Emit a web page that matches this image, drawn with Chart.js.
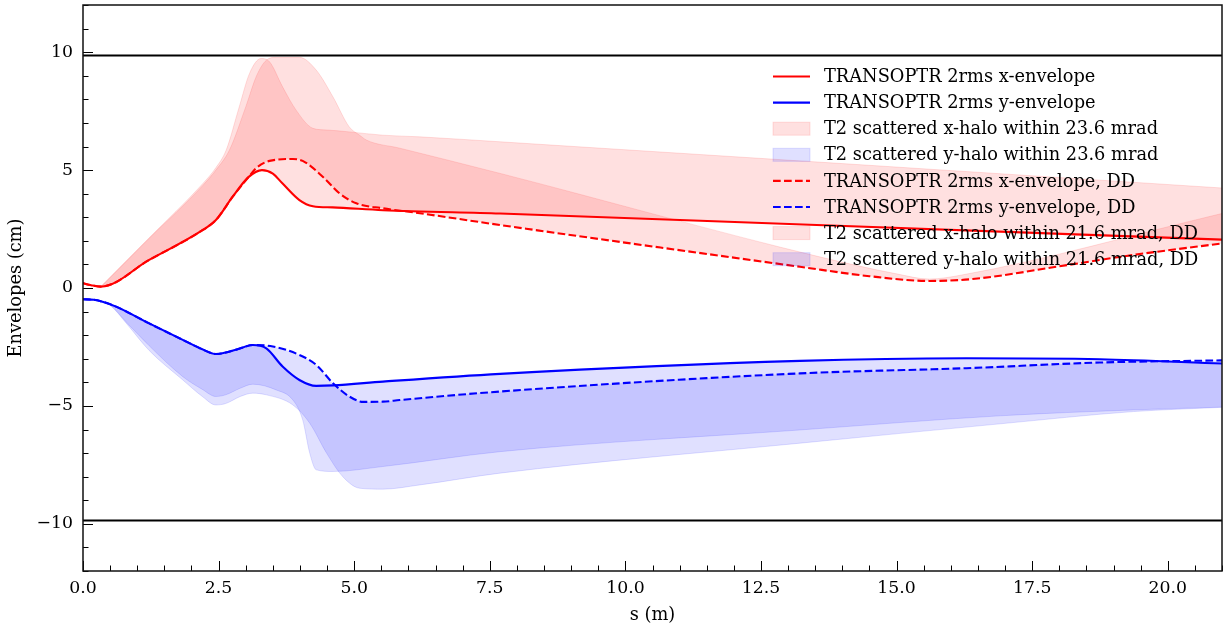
<!DOCTYPE html>
<html lang="en">
<head>
  <meta charset="UTF-8">
  <title>Beam envelopes along s</title>
  <script src="https://cdn.jsdelivr.net/npm/chart.js"></script>
  <style>
    html, body { margin: 0; padding: 0; background: #fff; }
    #wrap { width: 1228px; height: 627px; }
  </style>
</head>
<body>
<div id="wrap"><canvas id="envChart"></canvas></div>
<script>
  // TRANSOPTR 2rms envelopes (s in m, value in cm)
  const xEnvS = [0, 0.15, 0.33, 1.22, 2.21, 2.45, 2.76, 3.05, 3.3, 3.5, 3.68, 3.99, 4.24, 4.6, 5.53, 7.69, 13.4, 21];
  const xEnvV = [0.2, 0.12, 0.06, 1.19, 2.46, 2.88, 3.87, 4.7, 5.0, 4.85, 4.43, 3.73, 3.47, 3.42, 3.3, 3.16, 2.68, 2.05];

  const yEnvS = [0, 0.2, 0.36, 0.61, 1.22, 1.84, 2.2, 2.45, 2.57, 2.85, 3.13, 3.38, 3.68, 3.99, 4.3, 4.61, 5.53, 7.69, 13.22, 16.29, 18.75, 21];
  const yEnvV = [-0.48, -0.5, -0.58, -0.79, -1.5, -2.2, -2.6, -2.8, -2.77, -2.6, -2.42, -2.56, -3.33, -3.9, -4.15, -4.13, -3.97, -3.64, -3.09, -2.98, -3.02, -3.2];

  // DD envelopes
  const xEnvDDS = [0, 0.15, 0.33, 1.22, 2.21, 2.45, 2.76, 3.05, 3.2, 3.44, 3.87, 4.05, 4.42, 4.73, 5.04, 5.53, 6.21, 7.69, 13.22, 14.5, 15.6, 16.4, 18.14, 19.36, 21];
  const xEnvDDV = [0.2, 0.12, 0.06, 1.19, 2.46, 2.88, 3.87, 4.7, 5.1, 5.39, 5.47, 5.39, 4.72, 4.01, 3.59, 3.38, 3.17, 2.67, 0.9, 0.5, 0.3, 0.38, 0.97, 1.4, 1.89];

  const yEnvDDS = [0, 0.2, 0.36, 0.61, 1.22, 1.84, 2.2, 2.45, 2.57, 2.85, 3.13, 3.5, 3.99, 4.3, 4.61, 4.91, 5.17, 5.53, 5.84, 7.69, 13.22, 16.29, 18.75, 21];
  const yEnvDDV = [-0.48, -0.5, -0.58, -0.79, -1.5, -2.2, -2.6, -2.8, -2.77, -2.6, -2.42, -2.48, -2.84, -3.26, -4.04, -4.6, -4.83, -4.82, -4.75, -4.39, -3.62, -3.4, -3.16, -3.07];

  // T2 scattered halo edges, 23.6 mrad
  const xHaloS = [0.33, 1.22, 2.21, 2.45, 2.64, 2.88, 3.07, 3.28, 3.44, 3.68, 3.93, 4.24, 4.5, 4.91, 5.53, 6.21, 7.69, 21];
  const xHaloV = [0.06, 2.13, 4.43, 5.1, 5.85, 7.68, 9.1, 9.73, 9.59, 8.53, 7.54, 6.77, 6.7, 6.62, 6.48, 6.41, 6.2, 4.24];

  const yHaloS = [0.36, 0.5, 0.8, 1.22, 1.84, 2.2, 2.45, 2.63, 2.9, 3.13, 3.56, 3.87, 4.05, 4.18, 4.3, 4.61, 5.53, 7.69, 13.22, 16.91, 19.37, 21];
  const yHaloV = [-0.58, -0.72, -1.45, -2.45, -3.76, -4.3, -4.6, -4.53, -4.25, -4.08, -4.32, -4.75, -5.59, -7.0, -7.71, -7.78, -7.57, -6.94, -6.02, -5.42, -5.17, -5.05];

  // T2 scattered halo edges, 21.6 mrad, DD
  const xHaloDDS = [0.33, 1.22, 2.21, 2.45, 2.7, 3.0, 3.2, 3.38, 3.56, 3.99, 4.3, 4.61, 4.91, 5.1, 5.23, 5.84, 7.69, 13.6, 15.0, 15.6, 16.2, 21];
  const xHaloDDV = [0.06, 2.1, 4.35, 5.0, 5.85, 7.68, 9.0, 9.66, 9.78, 9.78, 9.24, 8.1, 6.83, 6.48, 6.27, 5.93, 4.86, 1.31, 0.6, 0.38, 0.55, 3.16];

  const yHaloDDS = [0.36, 0.5, 0.8, 1.22, 1.84, 2.2, 2.45, 2.63, 2.9, 3.13, 3.38, 3.87, 4.18, 4.49, 4.79, 5.1, 5.53, 6.21, 7.69, 13.22, 16.91, 19.37, 21];
  const yHaloDDV = [-0.58, -0.73, -1.5, -2.65, -3.9, -4.6, -4.96, -4.9, -4.6, -4.46, -4.53, -4.96, -5.73, -7.0, -8.0, -8.49, -8.53, -8.35, -7.85, -6.58, -5.76, -5.24, -5.06];

  // aperture limits
  const apertureS = [0, 21];
  const apertureV = 9.86;

  const labels = [
    'TRANSOPTR 2rms x-envelope',
    'TRANSOPTR 2rms y-envelope',
    'T2 scattered x-halo within 23.6 mrad',
    'T2 scattered y-halo within 23.6 mrad',
    'TRANSOPTR 2rms x-envelope, DD',
    'TRANSOPTR 2rms y-envelope, DD',
    'T2 scattered x-halo within 21.6 mrad, DD',
    'T2 scattered y-halo within 21.6 mrad, DD'
  ];

  const pts = (s, v) => s.map((x, i) => ({ x: x, y: v[i] }));

  const RED = '#ff0000', BLUE = '#0000ff';
  const RED_FILL = 'rgba(255,0,0,0.12)', BLUE_FILL = 'rgba(0,0,255,0.12)';
  const DASH = [7.7, 3.3];
  const FONT = "'DejaVu Serif', 'Liberation Serif', serif";
  const TICK_SIZE = 17.3, TEXT_SIZE = 17.8;

  function envLine(label, data, color, dash) {
    return {
      label, data, borderColor: color, borderWidth: 2.1, borderDash: dash || [],
      pointRadius: 0, fill: false, cubicInterpolationMode: 'monotone', order: 1
    };
  }
  function halo(label, data, color, fillColor, target) {
    return {
      label, data, borderColor: fillColor, backgroundColor: fillColor, borderWidth: 1,
      pointRadius: 0, fill: target, cubicInterpolationMode: 'monotone', order: 2
    };
  }
  function aperture(v) {
    return {
      label: '', data: pts(apertureS, [v, v]), borderColor: '#000', borderWidth: 2,
      pointRadius: 0, fill: false, order: 0
    };
  }

  const datasets = [
    envLine(labels[0], pts(xEnvS, xEnvV), RED),
    envLine(labels[1], pts(yEnvS, yEnvV), BLUE),
    halo(labels[2], pts(xHaloS, xHaloV), RED, RED_FILL, 0),
    halo(labels[3], pts(yHaloS, yHaloV), BLUE, BLUE_FILL, 1),
    envLine(labels[4], pts(xEnvDDS, xEnvDDV), RED, DASH),
    envLine(labels[5], pts(yEnvDDS, yEnvDDV), BLUE, DASH),
    halo(labels[6], pts(xHaloDDS, xHaloDDV), RED, RED_FILL, 4),
    halo(labels[7], pts(yHaloDDS, yHaloDDV), BLUE, BLUE_FILL, 5),
    aperture(apertureV),
    aperture(-apertureV)
  ];

  // inward ticks, full frame, legend inside the axes
  const decor = {
    id: 'decor',
    afterDraw(chart) {
      const { ctx, chartArea: a, scales: { x, y } } = chart;
      ctx.save();
      ctx.strokeStyle = '#000';
      ctx.lineWidth = 1;
      ctx.beginPath();
      for (let i = 0; i <= 42; i++) {
        const px = Math.round(x.getPixelForValue(i * 0.5)) + 0.5;
        const len = i % 5 === 0 ? 10 : 5.5;
        ctx.moveTo(px, a.bottom);
        ctx.lineTo(px, a.bottom - len);
      }
      for (let v = -12; v <= 12; v++) {
        const py = Math.round(y.getPixelForValue(v)) + 0.5;
        const len = v % 5 === 0 ? 10 : 5.5;
        ctx.moveTo(a.left, py);
        ctx.lineTo(a.left + len, py);
      }
      ctx.stroke();
      ctx.lineWidth = 1.5;
      ctx.strokeStyle = '#111';
      ctx.strokeRect(a.left, a.top, a.right - a.left, a.bottom - a.top);

      // legend
      const x0 = 773, w = 37, tx = 824, y0 = 76.5, step = 26.1;
      ctx.font = TEXT_SIZE + 'px ' + FONT;
      ctx.textBaseline = 'middle';
      ctx.textAlign = 'left';
      chart.data.datasets.slice(0, 8).forEach((ds, i) => {
        const cy = y0 + i * step;
        if (ds.fill === false) {
          ctx.strokeStyle = ds.borderColor;
          ctx.lineWidth = 2.1;
          ctx.setLineDash(ds.borderDash);
          ctx.beginPath();
          ctx.moveTo(x0, cy);
          ctx.lineTo(x0 + w, cy);
          ctx.stroke();
          ctx.setLineDash([]);
        } else {
          ctx.fillStyle = ds.backgroundColor;
          ctx.fillRect(x0, cy - 6.5, w, 13);
          ctx.strokeStyle = ds.backgroundColor;
          ctx.lineWidth = 1;
          ctx.strokeRect(x0, cy - 6.5, w, 13);
        }
        ctx.fillStyle = '#000';
        ctx.fillText(ds.label, tx, cy + 1);
      });
      ctx.restore();
    }
  };

  new Chart(document.getElementById('envChart'), {
    type: 'line',
    data: { datasets },
    options: {
      responsive: true,
      maintainAspectRatio: false,
      animation: false,
      layout: { padding: { top: 5, right: 6, left: 0, bottom: 0 } },
      plugins: {
        legend: { display: false },
        tooltip: { enabled: false },
        filler: { propagate: false }
      },
      scales: {
        x: {
          type: 'linear',
          min: 0,
          max: 21,
          grid: { display: false, drawTicks: false },
          border: { display: false },
          ticks: {
            stepSize: 2.5,
            includeBounds: false,
            padding: 7,
            color: '#000',
            font: { family: FONT, size: TICK_SIZE },
            maxRotation: 0,
            callback: v => v.toFixed(1)
          },
          title: {
            display: true,
            text: 's (m)',
            color: '#000',
            font: { family: FONT, size: TEXT_SIZE },
            padding: { top: 1, bottom: 1 }
          },
          afterFit: s => { s.height = 56; s.paddingLeft = 0; s.paddingRight = 0; }
        },
        y: {
          min: -12,
          max: 12,
          grid: { display: false, drawTicks: false },
          border: { display: false },
          ticks: {
            stepSize: 5,
            includeBounds: false,
            padding: 10,
            color: '#000',
            font: { family: FONT, size: TICK_SIZE },
            callback: v => (v < 0 ? '\u2212' + Math.abs(v) : String(v))
          },
          title: {
            display: true,
            text: 'Envelopes (cm)',
            color: '#000',
            font: { family: FONT, size: TEXT_SIZE },
            padding: { top: 6, bottom: 6 }
          },
          afterFit: s => { s.width = 83; s.paddingTop = 0; s.paddingBottom = 0; }
        }
      }
    },
    plugins: [decor]
  });
</script>
</body>
</html>
